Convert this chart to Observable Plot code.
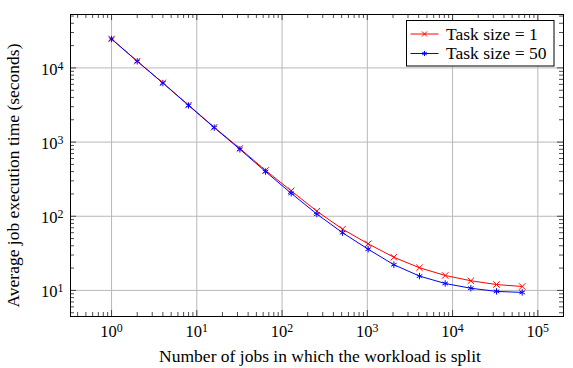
<!DOCTYPE html>
<html><head><meta charset="utf-8">
<script src="https://cdn.jsdelivr.net/npm/d3@7"></script>
<script src="https://cdn.jsdelivr.net/npm/@observablehq/plot@0.6"></script>
<style>
body{margin:0;background:#fff;}
#chart{position:relative;width:573px;height:368px;}
#chart svg, #chart svg text{font-family:"Liberation Serif","Times New Roman",serif !important;}
</style></head><body><div id="chart"></div>
<script>
const jobs = [1,2,4,8,16,32,64,128,256,512,1024,2048,4096,8192,16384,32768,65536];
const taskSize1 = [24600,12350,6280,3150,1585,820,415,220,117,67,42.5,28,20.2,15.9,13.5,12.0,11.3];
const taskSize50 = [24500,12270,6250,3120,1565,800,400,204,107,60,35.9,22.2,15.6,12.4,10.7,9.7,9.4];
const seriesNames = ["Task size = 1", "Task size = 50"];
const seriesColors = ["#ff0000", "#0000ff"];
const seriesSymbols = ["times", "asterisk"];
const xMajorTicks = [1,10,100,1000,10000,100000];
const yMajorTicks = [10,100,1000,10000];
const xLabel = "Number of jobs in which the workload is split";
const yLabel = "Average job execution time (seconds)";

const rows = [];
jobs.forEach((j,i)=>{
  rows.push({jobs:j, time:taskSize1[i], series:seriesNames[0]});
  rows.push({jobs:j, time:taskSize50[i], series:seriesNames[1]});
});

const W=573, H=368, mL=70, mR=10, mT=14, mB=52;
const fw=W-mL-mR, fh=H-mT-mB;
const xDomain=[0.33, 2e5], yDomain=[4.45, 52500];
function minor(domain){
  const out=[];
  for(let k=-2;k<=6;k++) for(let d=2;d<=9;d++){
    const v=+(d*Math.pow(10,k)).toPrecision(6);
    if(v>=domain[0] && v<=domain[1]) out.push(v);
  }
  return out;
}
const xMinor=minor(xDomain), yMinor=minor(yDomain);
const MAJ=6, MIN=4;
const tickStyle={stroke:"#222", strokeWidth:0.8};

const chart = Plot.plot({
  width:W, height:H, marginLeft:mL, marginRight:mR, marginTop:mT, marginBottom:mB,
  style:{fontFamily:"Liberation Serif, serif", fontSize:"16.5px", color:"#000", background:"#fff"},
  x:{type:"log", domain:xDomain},
  y:{type:"log", domain:yDomain},
  color:{domain:seriesNames, range:seriesColors},
  symbol:{domain:seriesNames, range:seriesSymbols},
  marks:[
    Plot.ruleX(xMajorTicks, {x:d=>d, stroke:"#b8b8b8", strokeWidth:1}),
    Plot.ruleY(yMajorTicks, {y:d=>d, stroke:"#b8b8b8", strokeWidth:1}),
    Plot.tickX(xMajorTicks, {x:d=>d, insetTop:fh-MAJ, ...tickStyle}),
    Plot.tickX(xMajorTicks, {x:d=>d, insetBottom:fh-MAJ, ...tickStyle}),
    Plot.tickX(xMinor, {x:d=>d, insetTop:fh-MIN, ...tickStyle}),
    Plot.tickX(xMinor, {x:d=>d, insetBottom:fh-MIN, ...tickStyle}),
    Plot.tickY(yMajorTicks, {y:d=>d, insetRight:fw-MAJ, ...tickStyle}),
    Plot.tickY(yMajorTicks, {y:d=>d, insetLeft:fw-MAJ, ...tickStyle}),
    Plot.tickY(yMinor, {y:d=>d, insetRight:fw-MIN, ...tickStyle}),
    Plot.tickY(yMinor, {y:d=>d, insetLeft:fw-MIN, ...tickStyle}),
    Plot.line(rows, {x:"jobs", y:"time", z:"series", stroke:"series", strokeWidth:1}),
    Plot.dot(rows, {x:"jobs", y:"time", stroke:"series", symbol:"series", r:3, strokeWidth:1}),
    Plot.frame({stroke:"#000", strokeWidth:1}),
    Plot.axisX({ticks:xMajorTicks, tickSize:0, tickPadding:9, label:null, tickFormat:d=>"10^"+Math.round(Math.log10(d)), fontSize:16.5}),
    Plot.axisY({ticks:yMajorTicks, tickSize:0, tickPadding:7, label:null, tickFormat:d=>"10^"+Math.round(Math.log10(d)), fontSize:16.5, dy:1.5}),
    Plot.text([xLabel], {text:d=>d, frameAnchor:"bottom", textAnchor:"middle", lineAnchor:"middle", dx:3, dy:40, fontSize:17.5}),
    Plot.text([yLabel], {text:d=>d, frameAnchor:"left", textAnchor:"middle", lineAnchor:"middle", rotate:-90, dx:-57, dy:10, fontSize:17.5})
  ]
});

// superscript exponents in tick labels
d3.select(chart).selectAll("g[aria-label$='tick label'] text").each(function(){
  const t=this.textContent;
  const m=/^10\^(-?\d+)$/.exec(t);
  if(!m) return;
  const sel=d3.select(this);
  sel.text(null);
  sel.append("tspan").text("10");
  sel.append("tspan").attr("dy","-0.42em").attr("font-size","0.72em").text(m[1]);
});

// legend (inside the plot, top right)
const svg=d3.select(chart);
const lg=svg.append("g").attr("aria-label","legend").attr("text-anchor","start");
lg.append("rect").attr("x",406.5).attr("y",20.5).attr("width",147.5).attr("height",45.5)
  .attr("fill","#fff").attr("stroke","#000").attr("stroke-width",1);
seriesNames.forEach((name,i)=>{
  const yy=34+i*19.5;
  lg.append("line").attr("x1",410.5).attr("x2",438.5).attr("y1",yy).attr("y2",yy)
    .attr("stroke",seriesColors[i]).attr("stroke-width",1);
  lg.append("path").attr("transform",`translate(424.5,${yy})`)
    .attr("d",d3.symbol(i===0?d3.symbolTimes:d3.symbolAsterisk, 18)())
    .attr("fill","none").attr("stroke",seriesColors[i]).attr("stroke-width",1);
  lg.append("text").attr("x",446).attr("y",yy+5.5).attr("font-size",17.5)
    .attr("text-anchor","start").attr("fill","#000").text(name);
});

document.getElementById("chart").appendChild(chart);
</script></body></html>
